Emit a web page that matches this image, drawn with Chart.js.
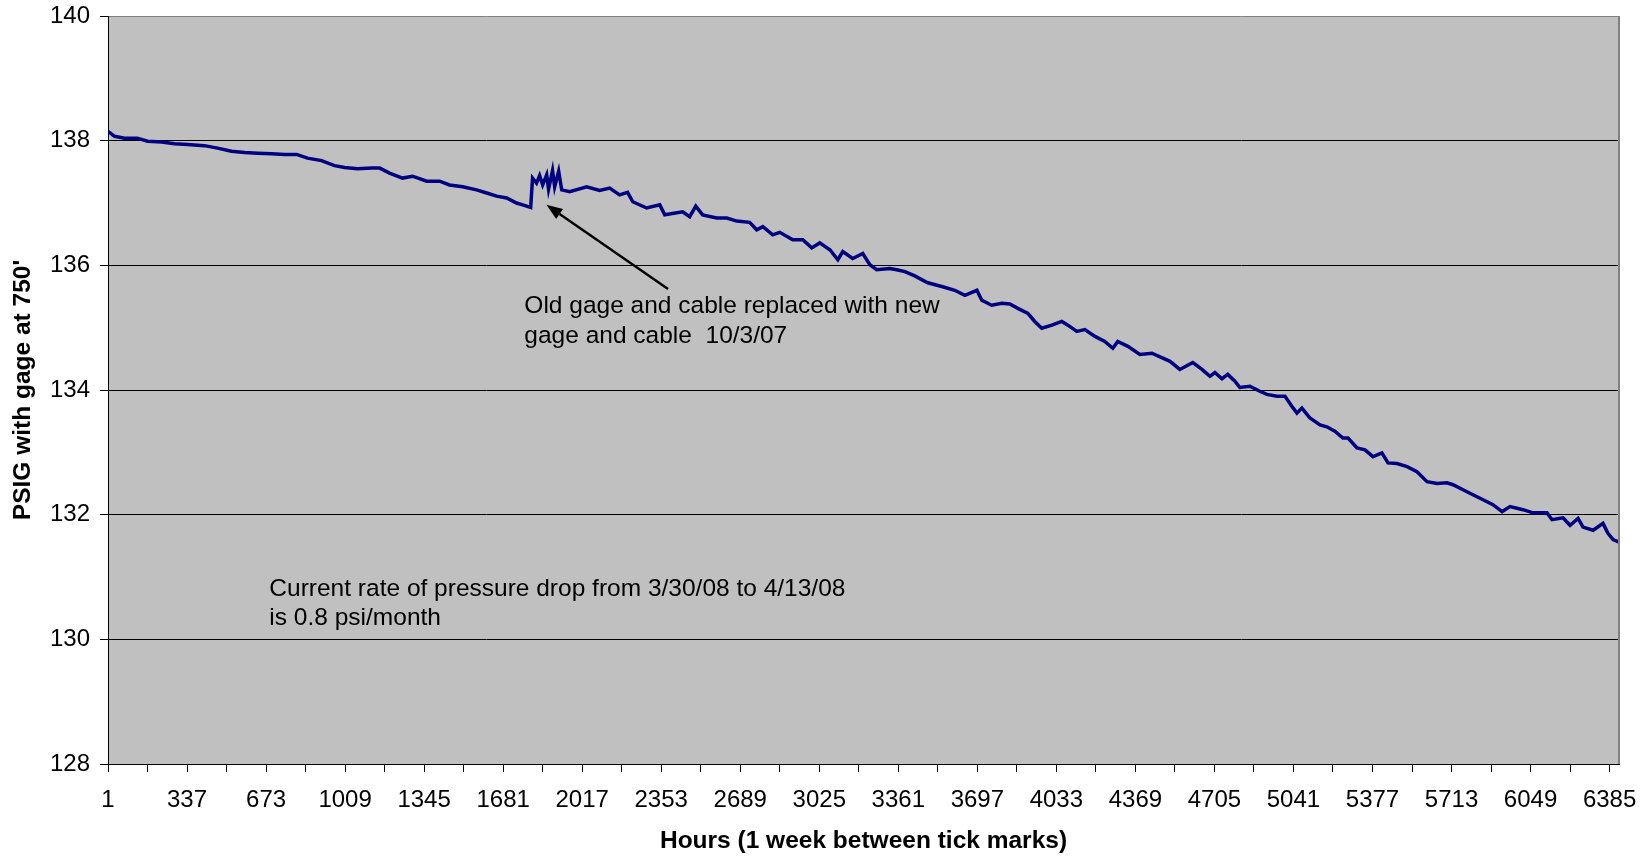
<html lang="en">
  <head>
    <meta charset="UTF-8" />
    <title>PSIG with gage at 750'</title>
    <script src="https://cdn.jsdelivr.net/npm/chart.js@4.4.1/dist/chart.umd.min.js"></script>
    <style>
      body { margin: 0; background: #fff; }
      canvas { display: block; }
    </style>
  </head>
  <body>
    <canvas id="pressureCanvas" width="1652" height="858"></canvas>
    <script>
      // Hours since start (x) and pressure readings (y)
      const hours = [
        1, 29, 71, 126, 169, 229, 284, 339, 411, 467, 526, 582, 637, 696, 752, 803,
        849, 909, 964, 1007, 1062, 1122, 1156, 1198, 1253, 1296, 1356, 1411, 1453,
        1509, 1568, 1611, 1653, 1696, 1738, 1764, 1798, 1806, 1823, 1836, 1849,
        1866, 1874, 1891, 1900, 1917, 1930, 1964, 2036, 2091, 2134, 2176, 2210,
        2232, 2291, 2347, 2368, 2444, 2474, 2500, 2529, 2589, 2632, 2674, 2729,
        2759, 2785, 2827, 2857, 2912, 2955, 2993, 3027, 3070, 3104, 3125, 3167,
        3210, 3240, 3269, 3325, 3354, 3389, 3431, 3486, 3546, 3601, 3644, 3695,
        3716, 3758, 3801, 3835, 3869, 3912, 3941, 3971, 4014, 4056, 4082, 4120,
        4154, 4197, 4239, 4273, 4294, 4337, 4388, 4439, 4481, 4516, 4558, 4613,
        4652, 4686, 4707, 4737, 4762, 4792, 4813, 4856, 4898, 4928, 4971, 5005,
        5034, 5056, 5077, 5111, 5154, 5183, 5217, 5251, 5273, 5311, 5345, 5379,
        5417, 5443, 5481, 5524, 5566, 5609, 5651, 5694, 5719, 5762, 5804, 5847,
        5889, 5928, 5962, 6017, 6059, 6119, 6140, 6187, 6217, 6251, 6272, 6315,
        6357, 6378, 6400, 6425
      ];
      const psig = [
        138.15, 138.07, 138.04, 138.04, 137.99, 137.98, 137.95, 137.94, 137.92,
        137.88, 137.83, 137.81, 137.8, 137.79, 137.78, 137.78, 137.72, 137.68,
        137.6, 137.57, 137.55, 137.56, 137.56, 137.48, 137.4, 137.43, 137.35,
        137.35, 137.29, 137.26, 137.21, 137.16, 137.11, 137.08, 137.0, 136.97,
        136.93, 137.4, 137.32, 137.44, 137.29, 137.45, 137.22, 137.52, 137.26,
        137.51, 137.21, 137.18, 137.26, 137.2, 137.24, 137.13, 137.17, 137.02,
        136.92, 136.97, 136.81, 136.86, 136.78, 136.95, 136.81, 136.76, 136.76,
        136.71, 136.69, 136.57, 136.62, 136.49, 136.53, 136.41, 136.41, 136.28,
        136.36, 136.25, 136.09, 136.22, 136.11, 136.19, 136.01, 135.93, 135.95,
        135.93, 135.9, 135.83, 135.72, 135.66, 135.6, 135.52, 135.6, 135.44,
        135.36, 135.39, 135.38, 135.31, 135.23, 135.1, 134.99, 135.04, 135.1,
        135.04, 134.94, 134.97, 134.86, 134.78, 134.67, 134.78, 134.7, 134.57,
        134.59, 134.52, 134.46, 134.33, 134.44, 134.33, 134.22, 134.28, 134.18,
        134.25, 134.14, 134.04, 134.06, 133.98, 133.93, 133.9, 133.9, 133.74,
        133.63, 133.71, 133.55, 133.44, 133.41, 133.34, 133.23, 133.23, 133.07,
        133.04, 132.93, 132.99, 132.83, 132.82, 132.77, 132.69, 132.53, 132.5,
        132.51, 132.48, 132.4, 132.32, 132.24, 132.16, 132.05, 132.13, 132.08,
        132.03, 132.03, 131.92, 131.95, 131.83, 131.94, 131.8, 131.75, 131.86,
        131.7, 131.6, 131.56
      ];

      // Axis settings
      const xFirst = 1;
      const xLast = 6425;
      const tickStep = 168; // one week
      const labelStep = 336; // label every other tick
      const yMin = 128;
      const yMax = 140;
      const yStep = 2;

      // Notes drawn on the plot, positioned in data units
      const gageNote = ["Old gage and cable replaced with new", "gage and cable  10/3/07"];
      const gageNoteAt = { x: 1771, y: [135.34, 134.87] };
      const arrowFrom = { x: 2382, y: 135.62 };
      const arrowTo = { x: 1865, y: 136.97 };
      const rateNote = ["Current rate of pressure drop from 3/30/08 to 4/13/08", "is 0.8 psi/month"];
      const rateNoteAt = { x: 687, y: [130.81, 130.34] };

      const points = hours.map((h, i) => ({ x: h, y: psig[i] }));

      Chart.defaults.font.family = "'Liberation Sans', Arial, sans-serif";
      Chart.defaults.font.size = 24;
      Chart.defaults.color = "#000";

      // Grey plot background and right border
      const plotArea = {
        id: "plotArea",
        beforeDraw(chart) {
          const { ctx, chartArea: a } = chart;
          ctx.save();
          ctx.fillStyle = "#c0c0c0";
          ctx.fillRect(a.left, a.top, a.right - a.left, a.bottom - a.top);
          ctx.restore();
        },
        afterDraw(chart) {
          const { ctx, chartArea: a } = chart;
          ctx.save();
          ctx.strokeStyle = "#808080";
          ctx.lineWidth = 2;
          ctx.beginPath();
          ctx.moveTo(a.right, a.top);
          ctx.lineTo(a.right, a.bottom);
          ctx.stroke();
          ctx.restore();
        },
      };

      // Text notes and arrow
      const notes = {
        id: "notes",
        afterDatasetsDraw(chart) {
          const { ctx } = chart;
          const xs = chart.scales.x;
          const ys = chart.scales.y;
          ctx.save();
          ctx.fillStyle = "#000";
          ctx.font = "24.5px 'Liberation Sans', Arial, sans-serif";
          ctx.textAlign = "left";
          ctx.textBaseline = "middle";
          gageNote.forEach((t, i) => {
            ctx.fillText(t, xs.getPixelForValue(gageNoteAt.x), ys.getPixelForValue(gageNoteAt.y[i]));
          });
          rateNote.forEach((t, i) => {
            ctx.fillText(t, xs.getPixelForValue(rateNoteAt.x), ys.getPixelForValue(rateNoteAt.y[i]));
          });

          const x1 = xs.getPixelForValue(arrowFrom.x);
          const y1 = ys.getPixelForValue(arrowFrom.y);
          const x2 = xs.getPixelForValue(arrowTo.x);
          const y2 = ys.getPixelForValue(arrowTo.y);
          const ang = Math.atan2(y2 - y1, x2 - x1);
          const len = 16;
          const half = 6;
          const bx = x2 - len * Math.cos(ang);
          const by = y2 - len * Math.sin(ang);
          ctx.strokeStyle = "#000";
          ctx.lineWidth = 2.5;
          ctx.beginPath();
          ctx.moveTo(x1, y1);
          ctx.lineTo(bx, by);
          ctx.stroke();
          ctx.beginPath();
          ctx.moveTo(x2, y2);
          ctx.lineTo(bx + half * Math.sin(ang), by - half * Math.cos(ang));
          ctx.lineTo(bx - half * Math.sin(ang), by + half * Math.cos(ang));
          ctx.closePath();
          ctx.fill();
          ctx.restore();
        },
      };

      new Chart(document.getElementById("pressureCanvas"), {
        type: "line",
        data: {
          datasets: [
            {
              label: "PSIG",
              data: points,
              borderColor: "#000080",
              borderWidth: 3.5,
              pointRadius: 0,
              tension: 0,
              fill: false,
            },
          ],
        },
        options: {
          responsive: false,
          animation: false,
          layout: { padding: { top: 16, right: 33, left: 0, bottom: 0 } },
          plugins: {
            legend: { display: false },
            tooltip: { enabled: false },
          },
          scales: {
            x: {
              type: "linear",
              min: xFirst,
              max: xLast,
              afterBuildTicks(scale) {
                const t = [];
                for (let v = xFirst; v <= xLast; v += tickStep) t.push({ value: v });
                scale.ticks = t;
              },
              afterFit(scale) {
                scale.height = 94;
                scale.paddingLeft = 0;
                scale.paddingRight = 0;
              },
              ticks: {
                autoSkip: false,
                maxRotation: 0,
                padding: 14,
                callback: (v) => ((v - xFirst) % labelStep === 0 ? String(v) : ""),
              },
              grid: {
                drawOnChartArea: false,
                drawTicks: true,
                tickLength: 8,
                color: "#000",
              },
              border: { display: true, color: "#000", width: 1 },
              title: {
                display: true,
                text: "Hours (1 week between tick marks)",
                font: { weight: "bold", size: 24.5 },
                padding: { top: 0, bottom: 2 },
              },
            },
            y: {
              min: yMin,
              max: yMax,
              afterFit(scale) {
                scale.width = 108;
                scale.paddingTop = 0;
                scale.paddingBottom = 0;
              },
              ticks: { stepSize: yStep, padding: 10 },
              grid: {
                drawTicks: true,
                tickLength: 8,
                color: (c) => (c.tick && c.tick.value === yMax ? "#808080" : "#000"),
                tickColor: "#000",
              },
              border: { display: true, color: "#000", width: 1 },
              title: {
                display: true,
                text: "PSIG with gage at 750'",
                font: { weight: "bold", size: 24.5 },
                padding: { top: 9, bottom: 0 },
              },
            },
          },
        },
        plugins: [plotArea, notes],
      });
    </script>
  </body>
</html>
